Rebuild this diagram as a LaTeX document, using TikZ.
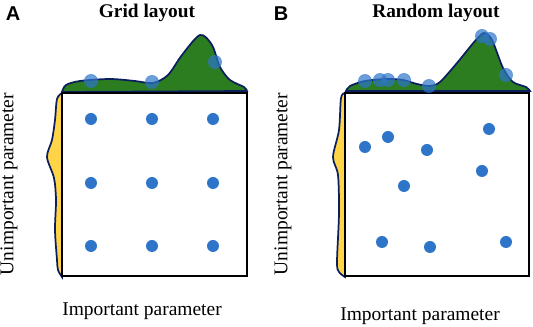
\documentclass[tikz,border=0pt]{standalone}
\usepackage{fontspec}
\setmainfont{Liberation Serif}
\newfontfamily\tagfont{Liberation Sans}
\usetikzlibrary{positioning}
\definecolor{cdot}{HTML}{2E75C9}
\definecolor{cgreen}{HTML}{2C7C20}
\definecolor{cyellow}{HTML}{FFD447}
\definecolor{cline}{HTML}{0B1F5E}
\tikzset{
  dot/.style={circle, fill=cdot, inner sep=0pt, minimum size=9pt},
  mdot/.style={circle, fill=cdot, fill opacity=0.7, draw=cdot, draw opacity=0.6, inner sep=0pt, minimum size=10pt},
  frame/.style={draw=black, line width=2.2pt, fill=white},
  dens/.style={draw=cline, line width=1.3pt},
  ttl/.style={font=\fontsize{14.5}{16}\selectfont\bfseries},
  tag/.style={font=\tagfont\fontsize{15}{16}\selectfont\bfseries},
  axl/.style={font=\fontsize{14.6}{16}\selectfont},
}

\begin{document}
\begin{tikzpicture}[x=0.75pt,y=-0.75pt]
\useasboundingbox (0,0) rectangle (533,327);
% panel A: grid layout
\node[tag] (tagA) at (13,14) {A};
\node[ttl] (titleA) at (147,13) {Grid layout};
\draw[dens, fill=cgreen] plot[smooth] coordinates {(62,92) (66,85) (80,81) (110,79) (135,81) (153,83) (168,75) (182,55) (200,35) (212,45) (220,67) (230,80) (244,87) (247,91)} -- cycle;
\draw[dens, fill=cyellow] plot[smooth] coordinates {(62,93) (57,99) (55,120) (52,140) (47,157) (54,178) (56,200) (55,230) (57,260) (58,270) (62,277)} -- cycle;
\draw[frame] (62,93) rectangle (247,276);
\foreach \x [count=\i] in {91,152,213}
  \foreach \y [count=\j] in {119,183,246}
    \node[dot] (ga-\i-\j) at (\x,\y) {};
\foreach \x/\y [count=\k] in {91/81, 152/82, 215/62}
  \node[mdot] (ma-\k) at (\x,\y) {};
\node[axl, rotate=90] (ylabA) at (9,184) {Unimportant parameter};
\node[axl] (xlabA) at (142,311) {Important parameter};

% panel B: random layout
\node[tag] (tagB) at (281,14) {B};
\node[ttl] (titleB) at (436,13) {Random layout};
\draw[dens, fill=cgreen] plot[smooth] coordinates {(346,91) (350,86) (365,81) (387,79) (403,80) (417,84) (430,86) (440,82) (457,63) (475,41) (484,33) (492,40) (503,68) (513,82) (526,87) (530,91)} -- cycle;
\draw[dens, fill=cyellow] plot[smooth] coordinates {(345,93) (341,98) (339,130) (333,157) (338,175) (339,213) (337,262) (339,272) (345,277)} -- cycle;
\draw[frame] (345,93) rectangle (529,276);
\foreach \x/\y [count=\k] in {365/147, 388/137, 427/150, 489/129, 482/171, 404/186, 382/242, 430/247, 506/242}
  \node[dot] (rb-\k) at (\x,\y) {};
\foreach \x/\y [count=\k] in {365/81, 380/80, 388/80, 404/80, 429/86, 482/36, 490/39, 506/75}
  \node[mdot] (mb-\k) at (\x,\y) {};
\node[axl, rotate=90] (ylabB) at (283,184) {Unimportant parameter};
\node[axl] (xlabB) at (420,316) {Important parameter};
\end{tikzpicture}
\end{document}
